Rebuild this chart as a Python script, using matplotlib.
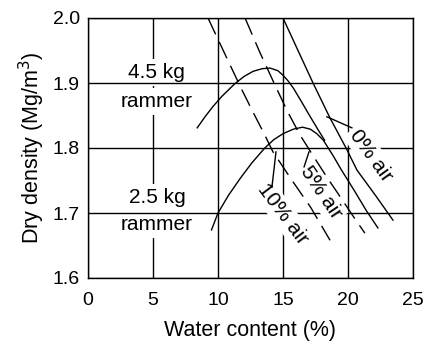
import matplotlib
matplotlib.use("Agg")
import matplotlib.pyplot as plt

# ---- data ----
xticks = [0, 5, 10, 15, 20, 25]
yticks = [1.6, 1.7, 1.8, 1.9, 2.0]
xtick_labels = ["0", "5", "10", "15", "20", "25"]
ytick_labels = ["1.6", "1.7", "1.8", "1.9", "2.0"]

w_air0 = [15.0, 16.2, 17.31, 18.62, 19.85, 20.69, 22.08, 23.46]
rho_air0 = [2.0, 1.948, 1.900, 1.846, 1.800, 1.766, 1.728, 1.689]

w_air5 = [12.08, 13.2, 14.31, 15.3, 16.31, 17.35, 18.38, 19.5, 20.6, 21.3]
rho_air5 = [2.0, 1.948, 1.900, 1.858, 1.820, 1.787, 1.755, 1.722, 1.689, 1.669]

w_air10 = [9.23, 10.85, 11.85, 12.75, 13.6, 14.23, 15.7, 17.15, 18.62]
rho_air10 = [2.0, 1.931, 1.889, 1.853, 1.820, 1.794, 1.750, 1.708, 1.658]

w_45 = [8.4, 9.0, 9.6, 10.3, 11.3, 12.0, 12.7, 13.4, 14.0, 14.6, 15.0,
        15.4, 15.8, 16.4, 17.1, 17.7, 18.2]
rho_45 = [1.831, 1.848, 1.8635, 1.8795, 1.899, 1.910, 1.918, 1.922, 1.923, 1.919, 1.912,
          1.903, 1.892, 1.872, 1.848, 1.828, 1.812]

w_25 = [9.5, 10.0, 10.8, 11.7, 12.6, 13.6, 14.3, 15.0, 15.8, 16.5, 17.1, 17.6,
        18.1, 18.8, 19.5, 20.5, 21.4, 22.3]
rho_25 = [1.674, 1.700, 1.727, 1.753, 1.777, 1.800, 1.813, 1.822, 1.829, 1.832, 1.829, 1.822,
          1.812, 1.790, 1.766, 1.734, 1.704, 1.677]

FONT = ["Liberation Sans", "DejaVu Sans"]
plt.rcParams["font.family"] = FONT

fig = plt.figure(figsize=(4.26, 3.41), dpi=100)
ax = fig.add_axes([88 / 426, (341 - 278) / 341, 325 / 426, 260 / 341])
ax.set_xlim(0, 25)
ax.set_ylim(1.6, 2.0)

# grid: vertical below rammer labels, horizontal above them
for xv in xticks:
    ax.axvline(xv, color="black", lw=1.0, zorder=1)
for yv in yticks:
    ax.axhline(yv, color="black", lw=1.0, zorder=2)

for s in ax.spines.values():
    s.set_linewidth(1.0)
    s.set_zorder(4)

ax.set_xticks(xticks)
ax.set_xticklabels(xtick_labels)
ax.set_yticks(yticks)
ax.set_yticklabels(ytick_labels)
ax.tick_params(length=0, labelsize=14)
ax.tick_params(axis="x", pad=10)
ax.tick_params(axis="y", pad=6)

ax.set_xlabel("Water content (%)", fontsize=15.5, labelpad=8)
ax.set_ylabel("Dry density (Mg/m$^3$)", fontsize=15.5, labelpad=4)

lw = 1.0
ax.plot(w_air0, rho_air0, color="black", lw=lw, zorder=3)
ax.plot(w_air5, rho_air5, color="black", lw=lw, ls=(0, (13, 6)), zorder=3)
ax.plot(w_air10, rho_air10, color="black", lw=lw, ls=(0, (13, 6)), zorder=3)
ax.plot(w_45, rho_45, color="black", lw=lw, zorder=3)
ax.plot(w_25, rho_25, color="black", lw=lw, zorder=3)

# rammer labels
box = dict(facecolor="white", edgecolor="none", pad=3)
ax.text(5.3, 1.9077, "4.5 kg", fontsize=15, ha="center", va="baseline", bbox=box, zorder=1.5)
ax.text(5.3, 1.863, "rammer", fontsize=15, ha="center", va="baseline", bbox=box, zorder=1.5)
ax.text(5.3, 1.7154, "2.5 kg", fontsize=15, ha="center", va="baseline", bbox=box, zorder=1.5)
ax.text(5.3, 1.674, "rammer", fontsize=15, ha="center", va="baseline", bbox=box, zorder=1.5)

# air-void labels
abox = dict(facecolor="white", edgecolor="none", pad=2)
ax.text(21.77, 1.788, "0% air", fontsize=15, ha="center", va="center", rotation=-54,
        rotation_mode="anchor", bbox=abox, zorder=2.5)
ax.text(17.9, 1.732, "5% air", fontsize=15, ha="center", va="center", rotation=-56,
        rotation_mode="anchor", bbox=abox, zorder=2.5)
ax.text(15.0, 1.698, "10% air", fontsize=15, ha="center", va="center", rotation=-53,
        rotation_mode="anchor", bbox=abox, zorder=2.5)

# leader lines
ax.plot([18.38, 20.3], [1.848, 1.831], color="black", lw=lw, zorder=3)
ax.plot([16.62, 17.0], [1.771, 1.794], color="black", lw=lw, zorder=3)
ax.plot([14.15, 14.46], [1.740, 1.794], color="black", lw=lw, zorder=3)

fig.savefig("out.png", dpi=100)
